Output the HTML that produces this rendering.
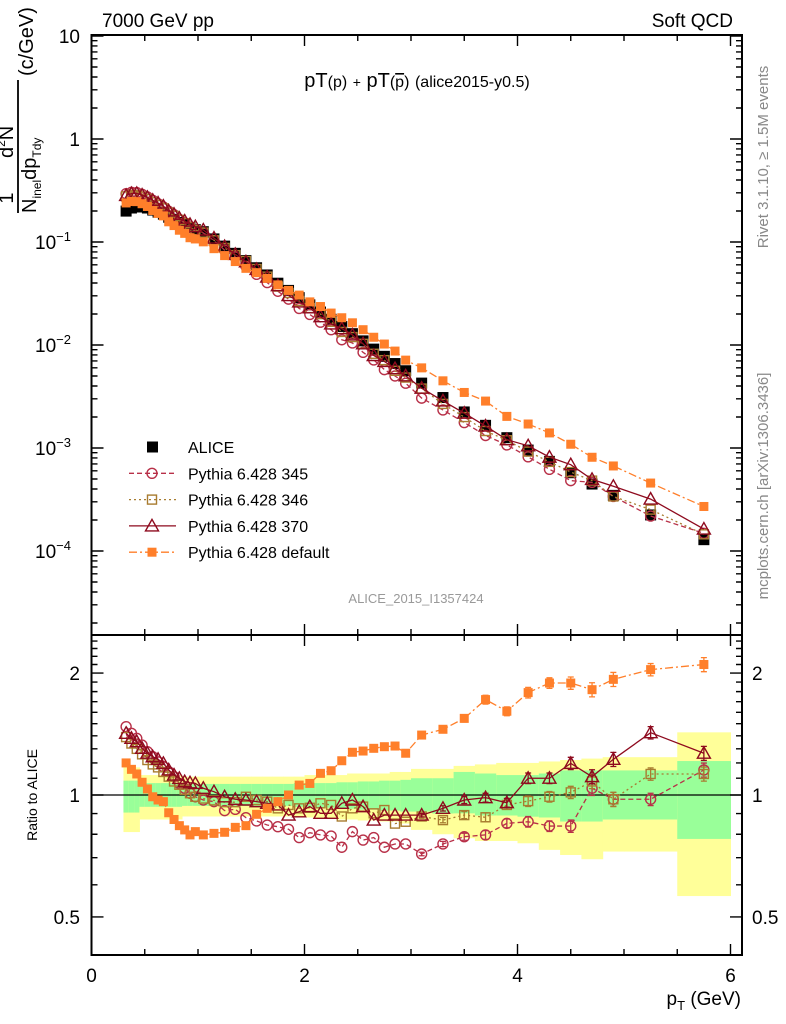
<!DOCTYPE html>
<html><head><meta charset="utf-8"><style>
html,body{margin:0;padding:0;background:#fff;}
svg{display:block;font-family:"Liberation Sans",sans-serif;}
</style></head><body>
<svg id="chart" width="786" height="1024" xmlns="http://www.w3.org/2000/svg">
<text x="102" y="27" font-size="19">7000 GeV pp</text>
<text x="733" y="27" font-size="19" text-anchor="end">Soft QCD</text>
<text x="417" y="87" font-size="20" text-anchor="middle">pT<tspan font-size="16">(p)</tspan> <tspan font-size="14">+</tspan> pT<tspan font-size="16">(<tspan text-decoration="overline">p</tspan>)</tspan> <tspan font-size="16">(alice2015-y0.5)</tspan></text>
<text x="416" y="603" font-size="13" fill="#999" text-anchor="middle">ALICE_2015_I1357424</text>
<text transform="translate(768,157) rotate(-90)" font-size="15" fill="#888" text-anchor="middle">Rivet 3.1.10, ≥ 1.5M events</text>
<text transform="translate(768,486) rotate(-90)" font-size="15" fill="#888" text-anchor="middle">mcplots.cern.ch [arXiv:1306.3436]</text>
<g transform="rotate(-90)" font-size="20">
<text x="-198" y="13" text-anchor="middle">1</text>
<text x="-158" y="13">d<tspan font-size="12" dy="-8">2</tspan><tspan dy="8">N</tspan></text>
<line x1="-213" y1="18" x2="-80" y2="18" stroke="#000" stroke-width="1.8"/>
<text x="-213" y="36">N<tspan font-size="12" dy="5">inel</tspan><tspan dy="-5">dp</tspan><tspan font-size="12" dy="5">Tdy</tspan></text>
<text x="-76" y="33">(c/GeV)</text>
</g>
<text transform="translate(37,795) rotate(-90)" font-size="14" text-anchor="middle">Ratio to ALICE</text>
<text x="741" y="1005" font-size="19" text-anchor="end">p<tspan font-size="13" dy="5">T</tspan><tspan dy="-5"> (GeV)</tspan></text>
<g id="bands"></g><g id="series"></g><g id="axes"></g><g id="legend"></g>
</svg>
<script>
const edges=[0.3,0.35,0.4,0.45,0.5,0.55,0.6,0.65,0.7,0.75,0.8,0.85,0.9,0.95,1.0,1.1,1.2,1.3,1.4,1.5,1.6,1.7,1.8,1.9,2.0,2.1,2.2,2.3,2.4,2.5,2.6,2.7,2.8,2.9,3.0,3.2,3.4,3.6,3.8,4.0,4.2,4.4,4.6,4.8,5.0,5.5,6.0];
const aliceLog=[-0.70,-0.67,-0.66,-0.66,-0.67,-0.69,-0.71,-0.73,-0.76,-0.78,-0.81,-0.83,-0.86,-0.88,-0.90,-0.97,-1.04,-1.11,-1.18,-1.25,-1.32,-1.40,-1.47,-1.54,-1.61,-1.68,-1.75,-1.82,-1.89,-1.96,-2.04,-2.11,-2.18,-2.25,-2.37,-2.51,-2.65,-2.78,-2.90,-3.02,-3.13,-3.24,-3.35,-3.46,-3.65,-3.89];
const ratio345=[1.475,1.42,1.38,1.328,1.279,1.243,1.208,1.175,1.142,1.11,1.068,1.039,1.01,0.99,0.972,0.963,0.915,0.922,0.879,0.863,0.843,0.835,0.823,0.785,0.807,0.797,0.792,0.743,0.812,0.774,0.785,0.743,0.757,0.757,0.715,0.757,0.789,0.797,0.851,0.859,0.838,0.838,1.039,0.976,0.976,1.153];
const ratio346=[1.39,1.34,1.30,1.26,1.22,1.19,1.17,1.14,1.11,1.08,1.06,1.03,1.01,0.99,0.98,0.97,0.96,0.96,0.99,0.972,0.963,0.927,0.945,0.927,0.93,0.954,0.945,0.885,0.927,0.936,0.901,0.918,0.85,0.859,0.885,0.867,0.892,0.881,0.945,0.966,0.99,1.015,1.08,0.976,1.127,1.127];
const ratio370=[1.42,1.38,1.354,1.304,1.268,1.243,1.225,1.197,1.153,1.12,1.099,1.079,1.072,1.068,1.039,1.019,0.99,0.976,0.972,0.963,0.954,0.945,0.892,0.909,0.936,0.901,0.901,0.954,0.972,0.936,0.867,0.892,0.892,0.892,0.892,0.927,0.972,0.985,0.957,1.10,1.10,1.197,1.11,1.225,1.425,1.268];
const ratioDef=[1.20,1.157,1.127,1.075,1.035,0.99,0.972,0.963,0.904,0.87,0.84,0.82,0.797,0.812,0.797,0.804,0.809,0.832,0.84,0.896,0.927,0.963,1.0,1.058,1.068,1.131,1.148,1.215,1.275,1.284,1.304,1.316,1.321,1.268,1.406,1.453,1.546,1.72,1.61,1.79,1.89,1.89,1.82,1.93,2.04,2.10];
const relErr=[0,0,0,0,0,0,0,0,0,0,0,0,0,0,0,0,0,0,0,0,0,0,0,0,0,0,0,0,0,0,0,0,0,0,0.01,0.015,0.02,0.025,0.025,0.03,0.03,0.035,0.04,0.04,0.035,0.04];
const yellowHi=[1.17,1.17,1.17,1.12,1.12,1.12,1.12,1.12,1.12,1.12,1.12,1.11,1.11,1.11,1.11,1.11,1.11,1.11,1.11,1.11,1.11,1.11,1.11,1.11,1.12,1.12,1.12,1.12,1.13,1.13,1.13,1.13,1.14,1.14,1.16,1.16,1.18,1.19,1.2,1.2,1.21,1.22,1.23,1.24,1.24,1.428];
const yellowLo=[0.81,0.81,0.81,0.87,0.87,0.87,0.87,0.87,0.87,0.87,0.87,0.885,0.885,0.885,0.885,0.885,0.885,0.885,0.885,0.885,0.885,0.885,0.885,0.88,0.88,0.875,0.875,0.87,0.87,0.865,0.865,0.86,0.86,0.85,0.82,0.8,0.782,0.77,0.77,0.76,0.732,0.711,0.694,0.725,0.725,0.563];
const greenHi=[1.085,1.085,1.085,1.07,1.07,1.07,1.07,1.07,1.07,1.07,1.07,1.065,1.065,1.065,1.065,1.065,1.065,1.065,1.065,1.065,1.065,1.065,1.065,1.07,1.07,1.07,1.07,1.075,1.075,1.08,1.08,1.085,1.085,1.09,1.1,1.1,1.14,1.13,1.12,1.12,1.13,1.15,1.15,1.15,1.15,1.213];
const greenLo=[0.905,0.905,0.905,0.935,0.935,0.935,0.935,0.935,0.935,0.935,0.935,0.94,0.94,0.94,0.94,0.94,0.94,0.94,0.94,0.94,0.94,0.94,0.94,0.935,0.935,0.93,0.93,0.925,0.925,0.92,0.92,0.915,0.915,0.91,0.91,0.9,0.901,0.89,0.89,0.884,0.88,0.86,0.86,0.87,0.87,0.779];
const xTicks=[0,2,4,6];
const mainTickExp=[1,0,-1,-2,-3,-4];
const ratioTicks=[0.5,1,2];

const NS="http://www.w3.org/2000/svg";
const L=91.5,R=742,T=35,MB=635,RB=955;
const X=v=>L+v*106.5;
const YM=v=>139-103*Math.log10(v);
const YR=v=>795-405*Math.log10(v);
function mk(tag,attrs,parent){const e=document.createElementNS(NS,tag);for(const k in attrs)e.setAttribute(k,attrs[k]);parent.appendChild(e);return e;}
const centers=edges.slice(0,-1).map((e,i)=>(e+edges[i+1])/2);
const alice=aliceLog.map(v=>Math.pow(10,v));
const bands=document.getElementById('bands'),series=document.getElementById('series'),axes=document.getElementById('axes'),legend=document.getElementById('legend');

for(let i=0;i<centers.length;i++){
  const y=mk('rect',{x:X(edges[i]),y:YR(yellowHi[i]),width:X(edges[i+1])-X(edges[i])+0.5,height:YR(yellowLo[i])-YR(yellowHi[i]),fill:'#ffff99'},bands);
  
  
  const g=mk('rect',{x:X(edges[i]),y:YR(greenHi[i]),width:X(edges[i+1])-X(edges[i])+0.5,height:YR(greenLo[i])-YR(greenHi[i]),fill:'#99ff99'},bands);
  
  
}
const one=mk('line',{x1:L,x2:R,y1:YR(1),y2:YR(1),stroke:'#000','stroke-width':1.3},bands);



const defs=[
 {name:'pythia-345',ratio:ratio345,color:'#b83048',dash:'5,3',marker:'circle'},
 {name:'pythia-346',ratio:ratio346,color:'#a87c30',dash:'2,3',marker:'osquare'},
 {name:'pythia-370',ratio:ratio370,color:'#8e0a1e',dash:'',marker:'triangle'},
 {name:'pythia-default',ratio:ratioDef,color:'#ff7f2a',dash:'8,3,2,3',marker:'fsquare'}
];
function marker(type,x,y,color,parent,scale){
  const s=scale||1;let e;
  if(type==='circle')e=mk('circle',{cx:x,cy:y,r:5*s,fill:'none',stroke:color,'stroke-width':1.4},parent);
  else if(type==='osquare')e=mk('rect',{x:x-4.5*s,y:y-4.5*s,width:9*s,height:9*s,fill:'none',stroke:color,'stroke-width':1.4},parent);
  else if(type==='triangle')e=mk('polygon',{points:`${x},${y-6.5*s} ${x-6.5*s},${y+5*s} ${x+6.5*s},${y+5*s}`,fill:'none',stroke:color,'stroke-width':1.4},parent);
  else if(type==='fsquare')e=mk('rect',{x:x-4.5*s,y:y-4.5*s,width:9*s,height:9*s,fill:color},parent);
  else e=mk('rect',{x:x-5.5*s,y:y-5.5*s,width:11*s,height:11*s,fill:color},parent);
  return e;
}
for(let i=0;i<centers.length;i++){
  const m=marker('alice',X(centers[i]),YM(alice[i]),'#000',series);
  
  
}
defs.forEach(d=>{
  const vals=d.ratio.map((r,i)=>r*alice[i]);
  const lm=mk('polyline',{points:centers.map((c,i)=>X(c)+','+YM(vals[i])).join(' '),fill:'none',stroke:d.color,'stroke-width':1.3,'stroke-dasharray':d.dash},series);
  
  
  const lr=mk('polyline',{points:centers.map((c,i)=>X(c)+','+YR(d.ratio[i])).join(' '),fill:'none',stroke:d.color,'stroke-width':1.3,'stroke-dasharray':d.dash},series);
  
  
  centers.forEach((c,i)=>{
    const m=marker(d.marker,X(c),YM(vals[i]),d.color,series);
    
    
    if(relErr[i]>0){
      const e=relErr[i]*d.ratio[i];
      const eb=mk('path',{d:`M${X(c)},${YR(d.ratio[i]+e)}V${YR(d.ratio[i]-e)}M${X(c)-3},${YR(d.ratio[i]+e)}h6M${X(c)-3},${YR(d.ratio[i]-e)}h6`,stroke:d.color,'stroke-width':1.3,fill:'none'},series);
      
      
    }
    const r=marker(d.marker,X(c),YR(d.ratio[i]),d.color,series);
    
    
  });
});

[[T,MB],[MB,RB]].forEach((p,k)=>{
  const f=mk('rect',{x:L,y:p[0],width:R-L,height:p[1]-p[0],fill:'none',stroke:'#000','stroke-width':2},axes);
  
  
});
let tp='';
for(let v=0;v<=6.01;v+=0.5){
  const maj=Math.abs(v-Math.round(v/2)*2)<1e-6;const len=maj?11:6;const x=X(v);
  tp+=`M${x},${T}v${len}M${x},${MB}v${-len}M${x},${MB}v${len}M${x},${RB}v${-len}`;
}
for(let e=-5;e<=1;e++){for(let m=1;m<10;m++){const v=m*Math.pow(10,e);const y=YM(v);if(y<T||y>MB)continue;const len=m===1?12:6;tp+=`M${L},${y}h${len}M${R},${y}h${-len}`;}}
[0.4,0.5,0.6,0.7,0.8,0.9,1,1.1,1.2,1.3,1.4,1.5,1.6,1.7,1.8,1.9,2,2.1,2.2,2.3,2.4].forEach(v=>{const y=YR(v);if(y<MB||y>RB)return;const len=(v===0.5||v===1||v===2)?12:6;tp+=`M${L},${y}h${len}M${R},${y}h${-len}`;});
const tk=mk('path',{d:tp,stroke:'#000','stroke-width':1.4,fill:'none'},axes);


xTicks.forEach(v=>{const t=mk('text',{x:X(v),y:982,'font-size':19,'text-anchor':'middle'},axes);t.textContent=v;

});
mainTickExp.forEach(e=>{const y=YM(Math.pow(10,e))+7;const t=mk('text',{x:80,y:y,'font-size':19,'text-anchor':'end'},axes);
if(e===1)t.textContent='10';else if(e===0)t.textContent='1';else{t.innerHTML=`10<tspan font-size="13" dy="-8">${'\u2212'+(-e)}</tspan>`;t.setAttribute('text-anchor','start');t.setAttribute('x',35);}

});
ratioTicks.forEach(v=>{[80,752].forEach((x,k)=>{const t=mk('text',{x:x,y:YR(v)+7,'font-size':19,'text-anchor':k?'start':'end'},axes);t.textContent=v;

});});

const leg=[{n:'ALICE',m:'alice',c:'#000',d:null},...defs.map((d,i)=>({n:['Pythia 6.428 345','Pythia 6.428 346','Pythia 6.428 370','Pythia 6.428 default'][i],m:d.marker,c:d.color,d:d.dash}))];
leg.forEach((e,i)=>{
  const y=447+i*26.3;
  const g=mk('g',{},legend);
  
  
  if(e.d!==null)mk('line',{x1:129,x2:176,y1:y,y2:y,stroke:e.c,'stroke-width':1.3,'stroke-dasharray':e.d},g);
  if(e.m==='alice')mk('rect',{x:147,y:y-5.5,width:11,height:11,fill:'#000'},g);else marker(e.m,152,y,e.c,g);
  const t=mk('text',{x:188,y:y+6,'font-size':16},g);t.textContent=e.n;
});
</script>
</body></html>
